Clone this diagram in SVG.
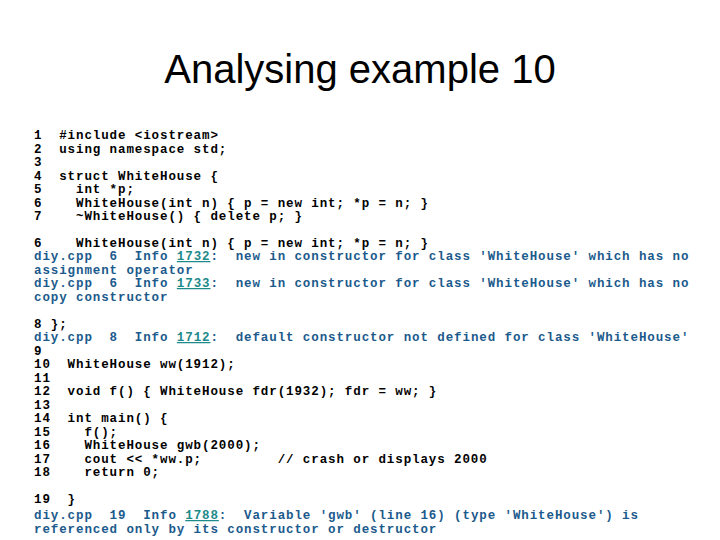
<svg xmlns="http://www.w3.org/2000/svg" width="720" height="540" viewBox="0 0 720 540">
<style>
text{font-family:"Liberation Mono","Courier New",monospace;font-size:12.5px;letter-spacing:0.9px;font-weight:bold;white-space:pre;fill:#000}
.t{font-family:"Liberation Sans",Arial,sans-serif;font-size:40px;font-weight:normal;letter-spacing:0}
.d{fill:#1b5a8c}
.n{fill:#1f8a8a;text-decoration:underline}
</style>
<rect width="720" height="540" fill="#fff"/>
<text class="t" x="360" y="83" text-anchor="middle">Analysing example 10</text>
<g id="code" xml:space="preserve">
<text x="34" y="139">1  #include &lt;iostream&gt;</text>
<text x="34" y="153">2  using namespace std;</text>
<text x="34" y="166">3</text>
<text x="34" y="180">4  struct WhiteHouse {</text>
<text x="34" y="193">5    int *p;</text>
<text x="34" y="207">6    WhiteHouse(int n) { p = new int; *p = n; }</text>
<text x="34" y="220">7    ~WhiteHouse() { delete p; }</text>
<text x="34" y="247">6    WhiteHouse(int n) { p = new int; *p = n; }</text>
<text x="34" y="260" class="d">diy.cpp  6  Info <tspan class="n">1732</tspan>:  new in constructor for class 'WhiteHouse' which has no</text>
<text x="34" y="274" class="d">assignment operator</text>
<text x="34" y="287" class="d">diy.cpp  6  Info <tspan class="n">1733</tspan>:  new in constructor for class 'WhiteHouse' which has no</text>
<text x="34" y="301" class="d">copy constructor</text>
<text x="34" y="328">8 };</text>
<text x="34" y="341" class="d">diy.cpp  8  Info <tspan class="n">1712</tspan>:  default constructor not defined for class 'WhiteHouse'</text>
<text x="34" y="355">9</text>
<text x="34" y="368">10  WhiteHouse ww(1912);</text>
<text x="34" y="382">11</text>
<text x="34" y="395">12  void f() { WhiteHouse fdr(1932); fdr = ww; }</text>
<text x="34" y="409">13</text>
<text x="34" y="422">14  int main() {</text>
<text x="34" y="436">15    f();</text>
<text x="34" y="449">16    WhiteHouse gwb(2000);</text>
<text x="34" y="463">17    cout &lt;&lt; *ww.p;         // crash or displays 2000</text>
<text x="34" y="476">18    return 0;</text>
<text x="34" y="503">19  }</text>
<text x="34" y="519" class="d">diy.cpp  19  Info <tspan class="n">1788</tspan>:  Variable 'gwb' (line 16) (type 'WhiteHouse') is</text>
<text x="34" y="533" class="d">referenced only by its constructor or destructor</text>
</g>
</svg>
